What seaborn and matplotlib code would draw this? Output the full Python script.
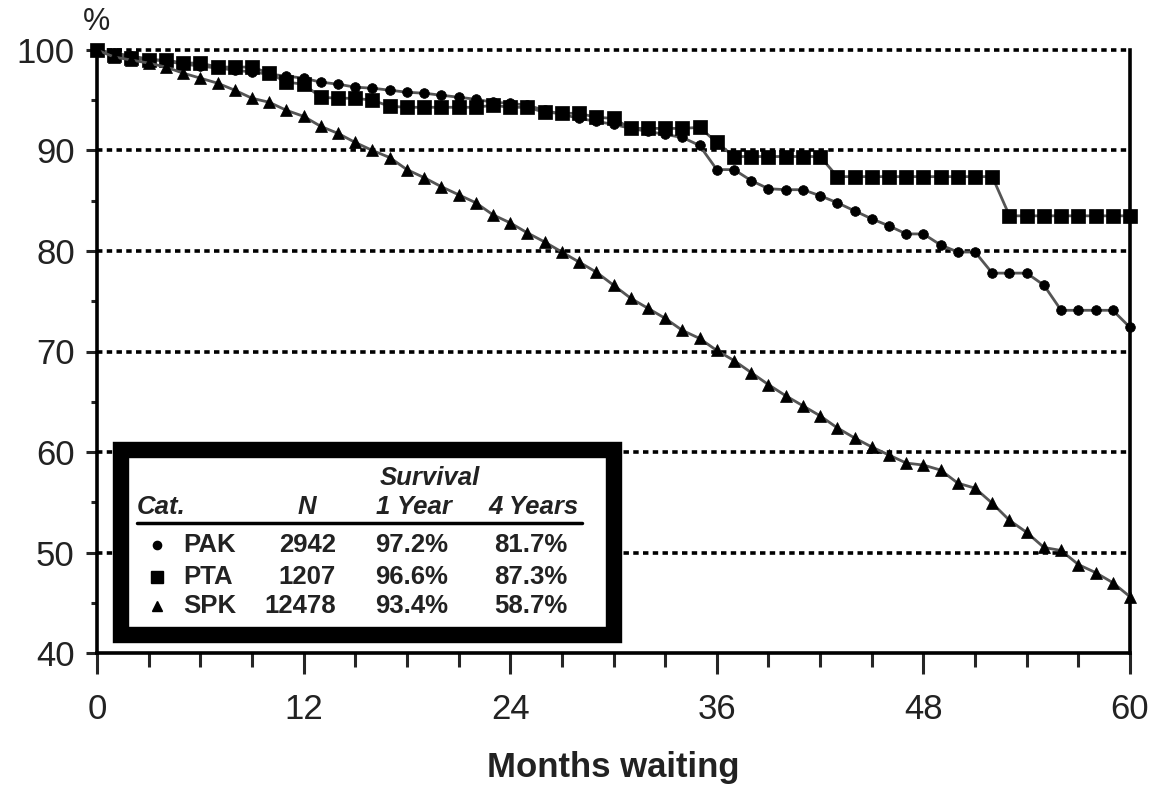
import numpy as np
import pandas as pd
import seaborn as sns
import matplotlib
matplotlib.use("Agg")
import matplotlib.pyplot as plt
from matplotlib.patches import Rectangle
from matplotlib.lines import Line2D
from matplotlib.ticker import MultipleLocator

months = list(range(0, 61))

pak = [100, 99.7, 99.4, 99.1, 98.9, 98.6, 98.4, 98.2, 98.0, 97.8, 97.6, 97.4, 97.2,
       96.8, 96.6, 96.3, 96.2, 96.0, 95.8, 95.7, 95.5, 95.3, 95.1, 94.8, 94.7, 94.5,
       94.0, 93.6, 93.2, 92.9, 92.6, 92.2, 91.9, 91.6, 91.3, 90.5, 88.1, 88.1, 87.0,
       86.2, 86.1, 86.1, 85.5, 84.8, 84.0, 83.2, 82.5, 81.7, 81.7, 80.6, 79.9, 79.9,
       77.8, 77.8, 77.8, 76.6, 74.1, 74.1, 74.1, 74.1, 72.4]

pta = [100, 99.5, 99.2, 99.0, 99.0, 98.7, 98.7, 98.3, 98.3, 98.3, 97.7, 96.8, 96.6,
       95.3, 95.2, 95.2, 95.0, 94.4, 94.3, 94.3, 94.3, 94.3, 94.3, 94.5, 94.3, 94.3,
       93.8, 93.7, 93.7, 93.3, 93.2, 92.2, 92.2, 92.2, 92.2, 92.3, 90.8, 89.4, 89.4,
       89.4, 89.4, 89.4, 89.4, 87.4, 87.4, 87.4, 87.4, 87.4, 87.4, 87.4, 87.4, 87.4,
       87.4, 83.5, 83.5, 83.5, 83.5, 83.5, 83.5, 83.5, 83.5]

spk = [100, 99.3, 99.0, 98.7, 98.3, 97.7, 97.2, 96.7, 96.0, 95.2, 94.8, 94.0, 93.4,
       92.4, 91.7, 90.8, 90.0, 89.3, 88.1, 87.3, 86.4, 85.6, 84.8, 83.6, 82.8, 81.8,
       80.9, 79.9, 78.9, 77.9, 76.6, 75.3, 74.3, 73.3, 72.1, 71.3, 70.1, 69.1, 67.9,
       66.7, 65.6, 64.6, 63.6, 62.4, 61.4, 60.5, 59.7, 58.9, 58.7, 58.2, 56.9, 56.4,
       54.9, 53.2, 52.0, 50.5, 50.2, 48.8, 48.0, 47.0, 45.6]

categories = ["PAK", "PTA", "SPK"]
n_values = ["2942", "1207", "12478"]
one_year = ["97.2%", "96.6%", "93.4%"]
four_years = ["81.7%", "87.3%", "58.7%"]
x_ticks = [0, 12, 24, 36, 48, 60]
y_ticks = [40, 50, 60, 70, 80, 90, 100]

markers = {"PAK": "o", "PTA": "s", "SPK": "^"}
msizes = {"PAK": 7, "PTA": 10, "SPK": 8.5}

df = pd.DataFrame({
    "month": months * 3,
    "survival": pak + pta + spk,
    "cat": ["PAK"] * len(months) + ["PTA"] * len(months) + ["SPK"] * len(months),
})

sns.set_theme(style="white")
plt.rcParams["font.family"] = ["Liberation Sans", "DejaVu Sans"]

fig = plt.figure(figsize=(11.52, 7.90), dpi=100)
ax = fig.add_axes([97 / 1152, 1 - 653 / 790, 1033 / 1152, 603 / 790])

for y in [50, 60, 70, 80, 90, 100]:
    ax.axhline(y, color="black", lw=2.6, ls=(0, (1.5, 1.2)), zorder=1, clip_on=False)

for cat in categories:
    sub = df[df["cat"] == cat]
    sns.lineplot(data=sub, x="month", y="survival", ax=ax, color="#555555", lw=2.0,
                 marker=markers[cat], markersize=msizes[cat], markerfacecolor="black",
                 markeredgecolor="black", markeredgewidth=0.5, legend=False,
                 zorder=3, clip_on=False)

ax.set_xlim(0, 60)
ax.set_ylim(40, 100)
ax.set_xticks(x_ticks)
ax.set_yticks(y_ticks)
ax.xaxis.set_minor_locator(MultipleLocator(3))
ax.yaxis.set_minor_locator(MultipleLocator(5))
ax.tick_params(axis="x", which="major", direction="out", length=15, width=2.2,
               bottom=True, pad=14, labelsize=25, labelcolor="#222222")
ax.tick_params(axis="x", which="minor", direction="out", length=10, width=2.2, bottom=True)
ax.tick_params(axis="y", which="major", direction="out", length=8, width=2.2,
               left=True, pad=8, labelsize=25, labelcolor="#222222")
ax.tick_params(axis="y", which="minor", direction="out", length=4, width=2.2, left=True)

for s in ["left", "right", "bottom"]:
    ax.spines[s].set_visible(True)
    ax.spines[s].set_color("black")
    ax.spines[s].set_linewidth(2.6)
ax.spines["top"].set_visible(False)
ax.grid(False)

ax.set_xlabel("Months waiting", fontsize=25, fontweight="bold", labelpad=18, color="#222222")
ax.set_ylabel("")
fig.text(97 / 1152, 1 - 22 / 790, "%", fontsize=22, ha="center", va="center", color="#222222")

# Legend table
def fx(px):
    return (px - 97) / 1033

def fy(py):
    return (653 - py) / 603

rect = Rectangle((fx(120.5), fy(635)), fx(613.5) - fx(120.5), fy(450) - fy(635),
                 transform=ax.transAxes, facecolor="white", edgecolor="black",
                 lw=11.8, joinstyle="miter", zorder=10, clip_on=False)
ax.add_patch(rect)

hdr = dict(transform=ax.transAxes, fontsize=18.5, fontweight="bold", fontstyle="italic",
           color="#222222", zorder=11, va="center")
ax.text(fx(430), fy(478), "Survival", ha="center", **hdr)
ax.text(fx(137), fy(507), "Cat.", ha="left", **hdr)
ax.text(fx(316), fy(507), "N", ha="right", **hdr)
ax.text(fx(414), fy(507), "1 Year", ha="center", **hdr)
ax.text(fx(534), fy(507), "4 Years", ha="center", **hdr)
ax.add_line(Line2D([fx(137), fx(582)], [fy(523), fy(523)], transform=ax.transAxes,
                   color="black", lw=2.5, zorder=11))

row_y = [545, 577, 606]
body = dict(transform=ax.transAxes, fontsize=18.5, fontweight="bold",
            color="#222222", zorder=11, va="center")
for i, cat in enumerate(categories):
    yy = fy(row_y[i])
    ax.add_line(Line2D([fx(157)], [yy], transform=ax.transAxes, marker=markers[cat],
                       markersize=msizes[cat] * 0.85, color="black", ls="none", zorder=11))
    ax.text(fx(183), yy, cat, ha="left", **body)
    ax.text(fx(336), yy, n_values[i], ha="right", **body)
    ax.text(fx(412), yy, one_year[i], ha="center", **body)
    ax.text(fx(531), yy, four_years[i], ha="center", **body)

fig.savefig("out.png", dpi=100, facecolor="white")
